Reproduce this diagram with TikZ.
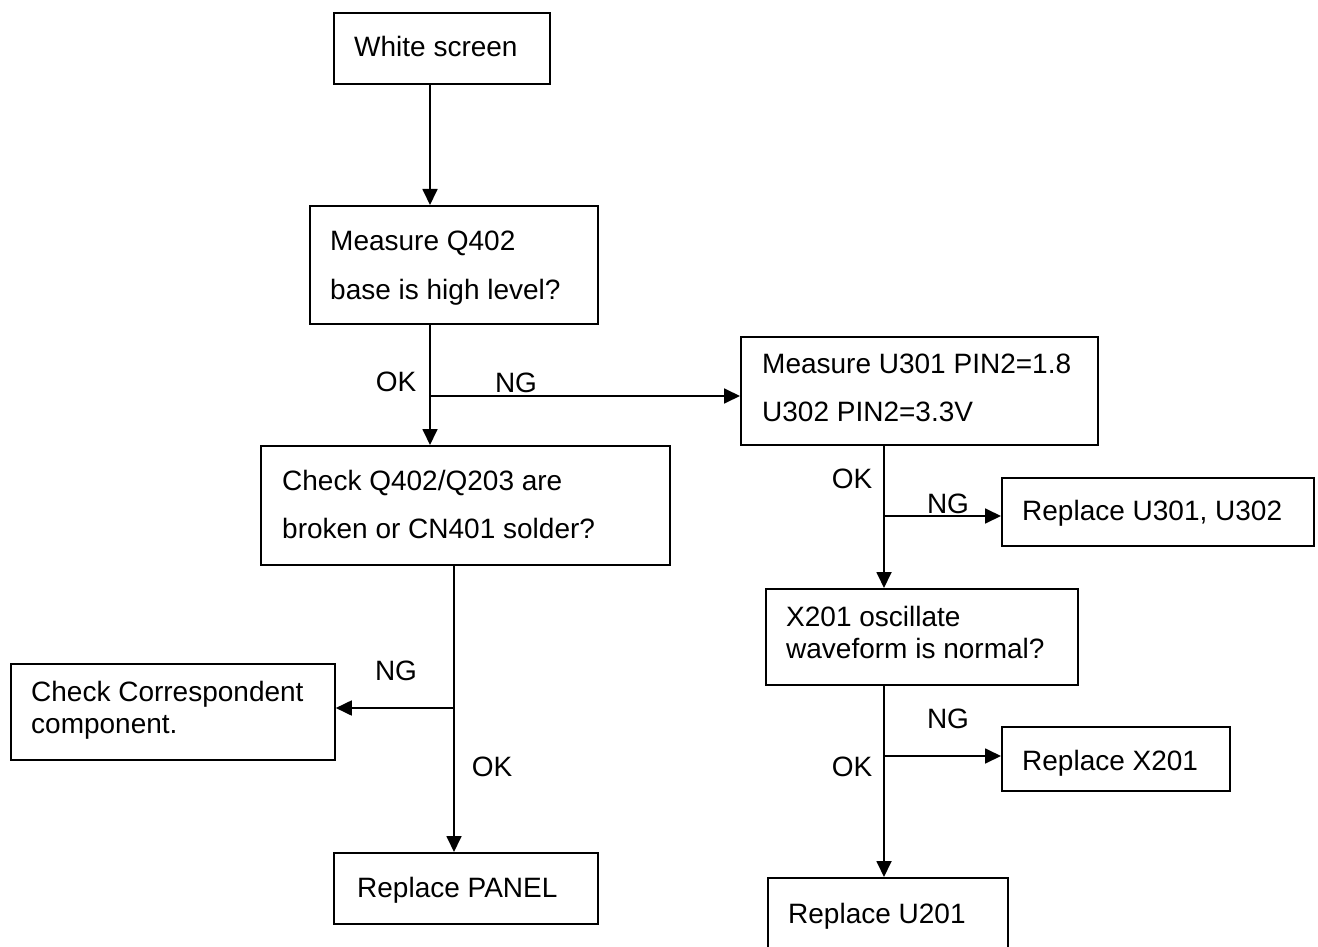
\documentclass[tikz,border=0pt]{standalone}
\usepackage{fontspec}
\setmainfont{Liberation Sans}
\usetikzlibrary{arrows.meta}
\begin{document}
\begin{tikzpicture}[x=1pt,y=-1pt,
  box/.style={draw,line width=1.8pt,rectangle,inner sep=0pt,anchor=north west},
  txt/.style={anchor=base west,inner sep=0pt,font=\fontsize{28}{33}\selectfont},
  lbl/.style={anchor=base,inner sep=0pt,font=\fontsize{28}{33}\selectfont},
  ln/.style={line width=1.8pt},
  arr/.style={line width=1.8pt,-{Triangle[length=16pt,width=15pt]}}]
\useasboundingbox (0,0) rectangle (1318,947);
\clip (0,0) rectangle (1318,947);
% boxes
\node[box,minimum width=216pt,minimum height=71pt] (ws) at (333,12) {};
\node[box,minimum width=288pt,minimum height=118pt] (mq) at (309,205) {};
\node[box,minimum width=357pt,minimum height=108pt] (mu) at (740,336) {};
\node[box,minimum width=409pt,minimum height=119pt] (cq) at (260,445) {};
\node[box,minimum width=324pt,minimum height=96pt] (cc) at (10,663) {};
\node[box,minimum width=264pt,minimum height=71pt] (rp) at (333,852) {};
\node[box,minimum width=312pt,minimum height=68pt] (ru) at (1001,477) {};
\node[box,minimum width=312pt,minimum height=96pt] (xo) at (765,588) {};
\node[box,minimum width=228pt,minimum height=64pt] (rx) at (1001,726) {};
\node[box,minimum width=240pt,minimum height=120pt] (rw) at (767,877) {};
% texts
\node[txt] (t1) at (354,57) {White screen};
\node[txt] (t2) at (330,251) {Measure Q402};
\node[txt] (t3) at (330,299) {base is high level?};
\node[txt] (t4) at (762,373) {Measure U301 PIN2=1.8};
\node[txt] (t5) at (762,421) {U302 PIN2=3.3V};
\node[txt] (t6) at (282,490) {Check Q402/Q203 are};
\node[txt] (t7) at (282,538) {broken or CN401 solder?};
\node[txt] (t8) at (31,701) {Check Correspondent};
\node[txt] (t9) at (31,733) {component.};
\node[txt] (t10) at (357,897) {Replace PANEL};
\node[txt] (t11) at (1022,520) {Replace U301, U302};
\node[txt] (t12) at (786,626) {X201 oscillate};
\node[txt] (t13) at (786,658) {waveform is normal?};
\node[txt] (t14) at (1022,770) {Replace X201};
\node[txt] (t15) at (788,923) {Replace U201};
% labels
\node[lbl] (l1) at (396,391) {OK};
\node[lbl] (l2) at (516,392) {NG};
\node[lbl] (l3) at (396,680) {NG};
\node[lbl] (l4) at (492,776) {OK};
\node[lbl] (l5) at (852,488) {OK};
\node[lbl] (l6) at (948,513) {NG};
\node[lbl] (l7) at (948,728) {NG};
\node[lbl] (l8) at (852,776) {OK};
% junctions
\coordinate (j1) at (430,396);
\coordinate (j2) at (454,708);
\coordinate (j3) at (884,516);
\coordinate (j4) at (884,756);
% connectors
\draw[arr] (ws.south -| j1) -- (mq.north -| j1);
\draw[ln] (mq.south -| j1) -- (j1);
\draw[arr] (j1) -- (cq.north -| j1);
\draw[arr] (j1) -- (mu.west |- j1);
\draw[ln] (cq.south -| j2) -- (j2);
\draw[arr] (j2) -- (rp.north -| j2);
\draw[arr] (j2) -- (cc.east |- j2);
\draw[ln] (mu.south -| j3) -- (j3);
\draw[arr] (j3) -- (xo.north -| j3);
\draw[arr] (j3) -- (ru.west |- j3);
\draw[ln] (xo.south -| j4) -- (j4);
\draw[arr] (j4) -- (rw.north -| j4);
\draw[arr] (j4) -- (rx.west |- j4);
\end{tikzpicture}
\end{document}
